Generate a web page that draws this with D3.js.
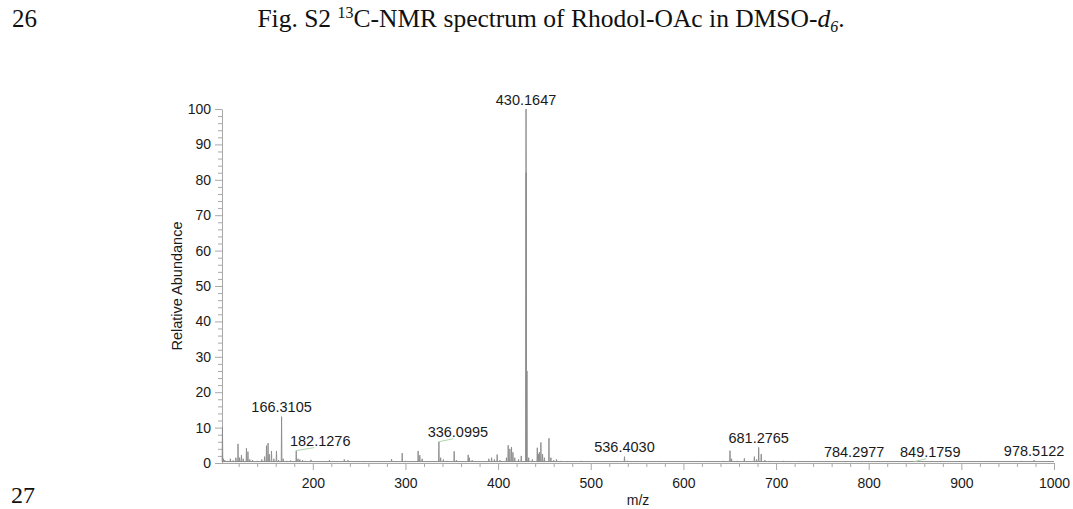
<!DOCTYPE html>
<html>
<head>
<meta charset="utf-8">
<script src="https://cdn.jsdelivr.net/npm/d3@7/dist/d3.min.js"></script>
<style>
  html, body { margin: 0; padding: 0; background: #fff; }
  svg { display: block; }
</style>
</head>
<body>
<svg id="chart" width="1073" height="509"></svg>
<script>
// Labelled peaks: m/z and relative abundance (%)
const labelMz    = [430.1647, 166.3105, 182.1276, 336.0995, 536.4030, 681.2765, 784.2977, 849.1759, 978.5122];
const labelAbund = [100, 13.1, 3.5, 6.0, 1.8, 4.4, 0.5, 0.4, 0.8];
const labelText  = ["430.1647", "166.3105", "182.1276", "336.0995", "536.4030", "681.2765", "784.2977", "849.1759", "978.5122"];

// Unlabelled peaks
const peakMz = [102.5, 103.5, 105, 108, 111, 114, 117, 119.3, 121, 123, 125, 128.4, 130, 132, 135, 140, 145, 148,
  150, 151.7, 153, 155.4, 158, 160.8, 163, 168, 172, 176, 184, 186, 189, 192, 198, 203, 210, 218, 226, 234, 238,
  246, 255, 262, 270, 278, 285, 290, 296.5, 300, 306, 313.7, 315.5, 318, 324, 330, 338, 341, 345, 352.6, 355, 360,
  367.7, 369, 372, 378, 385, 390, 393, 396, 399, 402, 409, 410.9, 412.7, 414.5, 416, 418, 422, 425, 430.3, 431.17,
  433, 437, 442.3, 443.5, 444.5, 446.2, 448, 450, 454.9, 457, 460, 463, 468, 475, 482, 490, 498, 505, 512, 520, 528,
  540, 548, 556, 565, 575, 585, 595, 605, 615, 625, 635, 643, 650.3, 652, 658, 665.8, 670, 676.6, 679, 684, 688,
  693, 700, 708, 715, 725, 735, 745, 755, 765, 775, 792, 800, 810, 820, 830, 840, 859, 868, 878, 888, 898, 910,
  920, 930, 940, 950, 958, 965, 972, 986, 995];
const peakAbund = [10, 1.2, 0.8, 0.6, 1.2, 0.7, 1.5, 5.4, 1.5, 2.2, 1.2, 4.2, 3.2, 1.0, 0.8, 0.6, 1.0, 1.8,
  4.9, 5.6, 2.5, 3.4, 1.2, 3.4, 0.8, 1.2, 0.6, 0.7, 1.2, 1.0, 0.8, 0.6, 0.9, 0.5, 0.5, 0.8, 0.5, 1.0, 0.8,
  0.5, 0.4, 0.5, 0.4, 0.5, 1.1, 0.5, 2.8, 0.6, 0.5, 3.4, 2.2, 1.2, 0.5, 0.5, 1.5, 1.0, 0.6, 3.3, 0.8, 0.5,
  2.3, 1.5, 0.8, 0.5, 0.5, 1.2, 1.5, 1.0, 2.4, 0.8, 1.5, 5.0, 4.0, 4.5, 3.0, 1.5, 1.0, 2.0, 82, 26,
  1.5, 1.0, 4.3, 2.5, 3.0, 5.8, 2.5, 1.5, 7.0, 1.5, 0.8, 1.0, 0.6, 0.5, 0.4, 0.6, 0.4, 0.4, 0.4, 0.4, 0.5,
  0.6, 0.4, 0.4, 0.4, 0.4, 0.4, 0.4, 0.4, 0.4, 0.4, 0.5, 0.6, 3.5, 1.2, 0.6, 1.3, 0.5, 1.8, 1.0, 2.5, 0.8,
  0.6, 0.5, 0.6, 0.4, 0.4, 0.4, 0.4, 0.4, 0.5, 0.4, 0.4, 0.4, 0.3, 0.4, 0.3, 0.4, 0.5, 0.3, 0.4, 0.3, 0.3, 0.3,
  0.4, 0.3, 0.3, 0.3, 0.4, 0.6, 0.5, 0.5, 0.3];

const noiseLevel = 0.4;
const xTickValues = [200, 300, 400, 500, 600, 700, 800, 900, 1000];
const yTickValues = [0, 10, 20, 30, 40, 50, 60, 70, 80, 90, 100];

const svg = d3.select("#chart");
const sans = "'Liberation Sans', Arial, sans-serif";
const serif = "'Liberation Serif', 'Times New Roman', serif";

// Page header / footer text
svg.append("text").attr("x", 12).attr("y", 27).attr("font-family", serif).attr("font-size", 25)
  .attr("fill", "#111").text("26");
svg.append("text").attr("x", 11).attr("y", 503).attr("font-family", serif).attr("font-size", 24)
  .attr("fill", "#111").text("27");

const title = svg.append("text").attr("x", 551).attr("y", 27).attr("text-anchor", "middle")
  .attr("font-family", serif).attr("font-size", 25.5).attr("fill", "#111");
title.append("tspan").text("Fig. S2 ");
title.append("tspan").attr("font-size", 16).attr("dy", -9).text("13");
title.append("tspan").attr("dy", 9).text("C-NMR spectrum of Rhodol-OAc in DMSO-");
title.append("tspan").attr("font-style", "italic").text("d");
title.append("tspan").attr("font-style", "italic").attr("font-size", 16).attr("dy", 5).text("6");
title.append("tspan").attr("dy", -5).text(".");

// Scales
const x = d3.scaleLinear().domain([102, 1000]).range([222, 1054]);
const y = d3.scaleLinear().domain([0, 100]).range([463, 109]);

const axisColor = "#a8a8a8";
const textColor = "#1a1a1a";

// Minor ticks
const xMinor = d3.range(120, 1001, 20).filter(v => v % 100 !== 0);
const yMinor = d3.range(0, 101, 2).filter(v => v % 10 !== 0);

const xAxisG = svg.append("g").attr("transform", `translate(0,${y(0)})`);
xAxisG.call(d3.axisBottom(x).tickValues(xMinor).tickSize(4).tickFormat(""));
xAxisG.call(g => g.select(".domain").remove());
const xMajorG = svg.append("g").attr("transform", `translate(0,${y(0)})`)
  .call(d3.axisBottom(x).tickValues(xTickValues).tickFormat(d3.format("d"))
    .tickSize(7).tickSizeOuter(0).tickPadding(5));
xMajorG.select(".domain").attr("d", `M${x(102)},0.5H${x(1000)}`);

const yAxisG = svg.append("g").attr("transform", `translate(${x(102)},0)`);
yAxisG.call(d3.axisLeft(y).tickValues(yMinor).tickSize(4).tickFormat(""));
yAxisG.call(g => g.select(".domain").remove());
const yMajorG = svg.append("g").attr("transform", `translate(${x(102)},0)`)
  .call(d3.axisLeft(y).tickValues(yTickValues).tickSize(7).tickSizeOuter(0).tickPadding(4));

svg.selectAll(".domain, .tick line").attr("stroke", axisColor).attr("stroke-width", 1);
svg.selectAll(".tick text").attr("font-family", sans).attr("font-size", 14).attr("fill", textColor);
xMajorG.selectAll(".tick text").attr("dy", "0.9em");

// Axis titles
svg.append("text").attr("transform", `translate(182,${(y(0) + y(100)) / 2}) rotate(-90)`)
  .attr("text-anchor", "middle").attr("font-family", sans).attr("font-size", 14.5)
  .attr("fill", textColor).text("Relative Abundance");
svg.append("text").attr("x", 638).attr("y", 505).attr("text-anchor", "middle")
  .attr("font-family", sans).attr("font-size", 14).attr("fill", textColor).text("m/z");

// Spectrum
const plot = svg.append("g");
const lineColor = "#8a8a8a";
plot.append("line")
  .attr("x1", x(102)).attr("x2", x(1000))
  .attr("y1", y(noiseLevel)).attr("y2", y(noiseLevel))
  .attr("stroke", lineColor).attr("stroke-width", 1);

const allPeaks = peakMz.map((m, i) => ({ mz: m, ab: peakAbund[i] }))
  .concat(labelMz.map((m, i) => ({ mz: m, ab: labelAbund[i] })));
const halfWidth = 0.35;
const line = d3.line().x(d => x(d[0])).y(d => y(d[1]));
plot.selectAll("path.peak").data(allPeaks).join("path")
  .attr("class", "peak")
  .attr("d", p => line([[p.mz - halfWidth, noiseLevel], [p.mz, p.ab], [p.mz + halfWidth, noiseLevel]]))
  .attr("fill", "none").attr("stroke", lineColor).attr("stroke-width", 0.9);

// Peak labels; some are shifted sideways with a leader line
const labelShift = { "182.1276": 24, "336.0995": 19, "849.1759": 16 };
const labels = labelMz.map((m, i) => ({ mz: m, ab: labelAbund[i], text: labelText[i], shift: labelShift[labelText[i]] || 0 }));
const lg = svg.append("g");
labels.filter(d => d.shift).forEach(d => {
  lg.append("line")
    .attr("x1", x(d.mz)).attr("y1", y(d.ab))
    .attr("x2", x(d.mz) + d.shift * 0.75).attr("y2", y(d.ab) - 3)
    .attr("stroke", "#a9d8a9").attr("stroke-width", 1);
});
lg.selectAll("text").data(labels).join("text")
  .attr("x", d => x(d.mz) + d.shift)
  .attr("y", d => y(d.ab) - 4.5)
  .attr("text-anchor", "middle")
  .attr("font-family", sans).attr("font-size", 14.5).attr("fill", textColor)
  .text(d => d.text);
</script>
</body>
</html>
